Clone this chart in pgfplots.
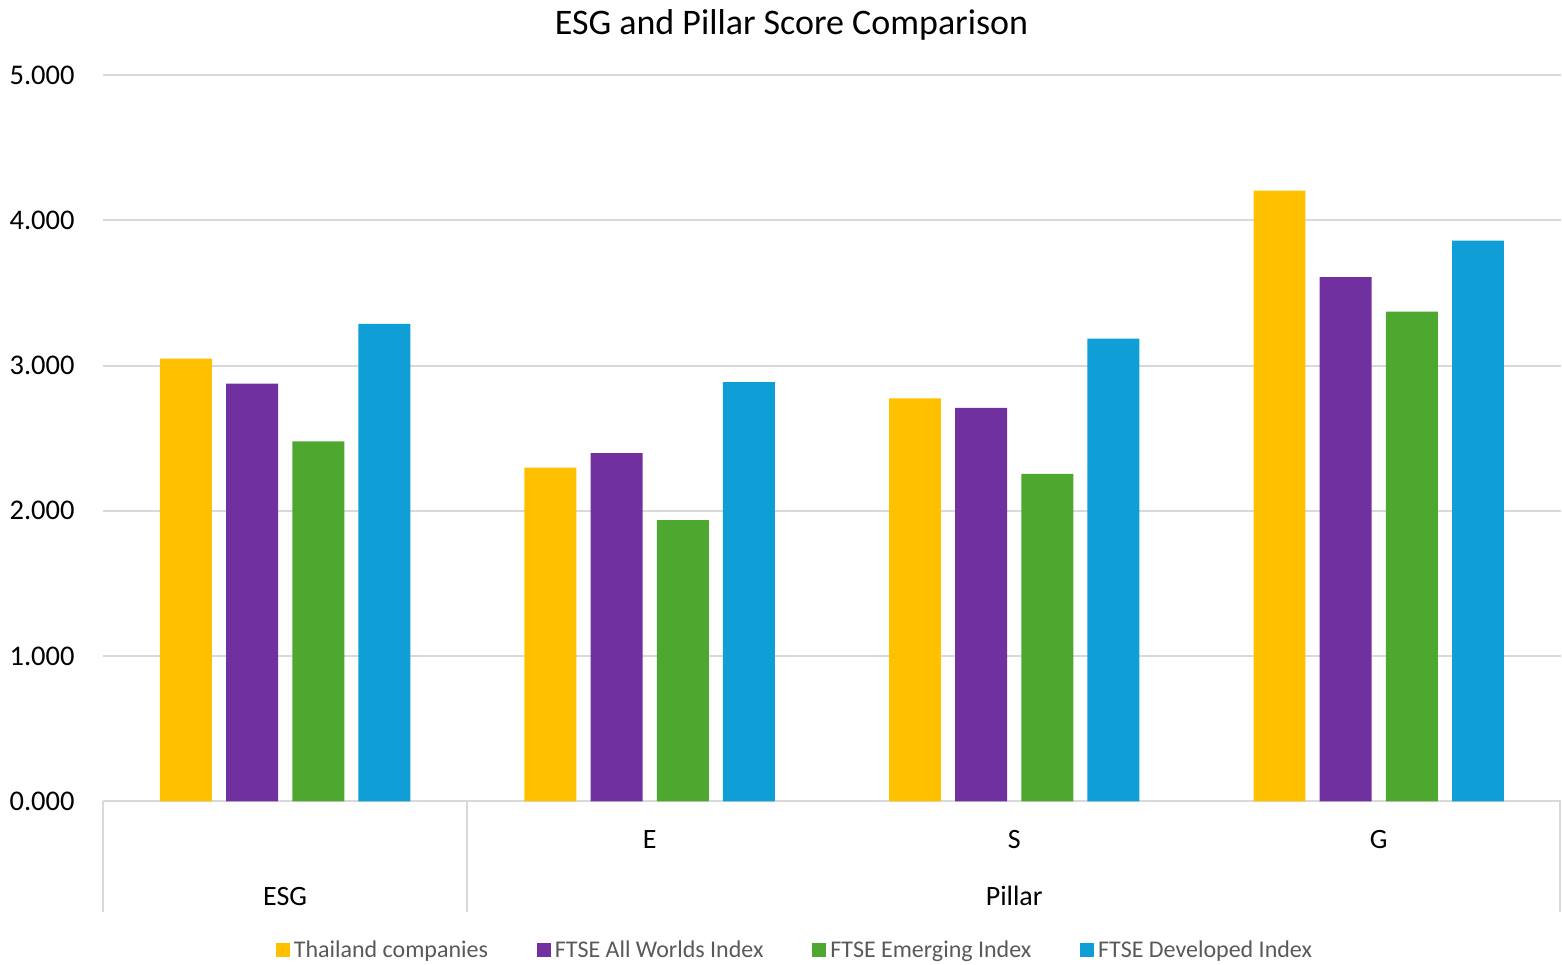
\documentclass[border=0pt]{standalone}
\usepackage{fontspec}
\setmainfont{Carlito}
\usepackage{pgfplots}
\usepackage{pgfplotstable}
\pgfplotsset{compat=1.18}

\definecolor{cYellow}{HTML}{FFC000}
\definecolor{cPurple}{HTML}{7030A0}
\definecolor{cGreen}{HTML}{4EA72E}
\definecolor{cBlue}{HTML}{0F9ED5}
\definecolor{cGrid}{HTML}{D9D9D9}
\definecolor{cLegend}{HTML}{595959}

% scores per category: 0 = ESG, 1 = E, 2 = S, 3 = G
\pgfplotstableread{
x thai allw emer dev
0 3.047 2.875 2.478 3.287
1 2.297 2.398 1.937 2.886
2 2.774 2.708 2.254 3.186
3 4.204 3.609 3.372 3.860
}\scores

\pgfplotsset{
  sqlegend/.style={legend image code/.code={\fill[##1] (0bp,-3.5bp) rectangle (7bp,3.5bp);}},
}

\begin{document}
\begin{tikzpicture}
\begin{axis}[
  scale only axis,
  width=729.5bp, height=363.5bp,
  xmin=-0.5, xmax=3.5,
  ymin=0, ymax=5,
  ybar,
  bar width=26bp,
  clip=false,
  axis line style={draw=none},
  xtick=\empty,
  ytick={0,1,2,3,4,5},
  major tick length=0pt,
  ymajorgrids,
  major grid style={cGrid, line width=1bp},
  /pgf/number format/fixed,
  /pgf/number format/fixed zerofill,
  /pgf/number format/precision=3,
  /pgf/number format/assume math mode=true,
  yticklabel style={anchor=east, inner sep=0pt, xshift=-14bp,
    font=\fontsize{14.25bp}{17bp}\selectfont},
  legend columns=4,
  legend cell align=left,
  legend style={at={(rel axis cs:0.4753,-0.205)}, anchor=center,
    draw=none, fill=none, inner sep=0pt,
    font=\fontsize{12bp}{14bp}\selectfont\color{cLegend},
    /tikz/every even column/.append style={column sep=22.5bp}},
]
\addplot[fill=cYellow, draw=none, bar shift=-49.65bp, sqlegend] table[x=x, y=thai] {\scores};
\addlegendentry{Thailand companies}
\addplot[fill=cPurple, draw=none, bar shift=-16.55bp, sqlegend] table[x=x, y=allw] {\scores};
\addlegendentry{FTSE All Worlds Index}
\addplot[fill=cGreen, draw=none, bar shift=16.55bp, sqlegend] table[x=x, y=emer] {\scores};
\addlegendentry{FTSE Emerging Index}
\addplot[fill=cBlue, draw=none, bar shift=49.65bp, sqlegend] table[x=x, y=dev] {\scores};
\addlegendentry{FTSE Developed Index}

% two-level category axis
\draw[cGrid, line width=1bp] (axis cs:-0.5,0) -- ([yshift=-55.5bp]axis cs:-0.5,0);
\draw[cGrid, line width=1bp] (axis cs:0.5,0) -- ([yshift=-55.5bp]axis cs:0.5,0);
\draw[cGrid, line width=1bp] ([xshift=-0.5bp]axis cs:3.5,0) -- ([xshift=-0.5bp,yshift=-55.5bp]axis cs:3.5,0);
\begin{scope}[every node/.style={anchor=base, inner sep=0pt, font=\fontsize{14bp}{17bp}\selectfont}]
  \node at ([yshift=-23.5bp]axis cs:1,0) {E};
  \node at ([yshift=-23.5bp]axis cs:2,0) {S};
  \node at ([yshift=-23.5bp]axis cs:3,0) {G};
  \node at ([yshift=-52bp]axis cs:0,0) {ESG};
  \node at ([yshift=-52bp]axis cs:2,0) {Pillar};
\end{scope}

% title
\node[anchor=base, inner sep=0pt, font=\fontsize{18bp}{21bp}\selectfont]
  at ([yshift=20.2bp]rel axis cs:0.4722,1) {ESG and Pillar Score Comparison};
\end{axis}
% picture extent
\path ([xshift=-51.5bp,yshift=-81bp]current axis.south west) rectangle ([yshift=37.5bp]current axis.north east);
\end{tikzpicture}
\end{document}
